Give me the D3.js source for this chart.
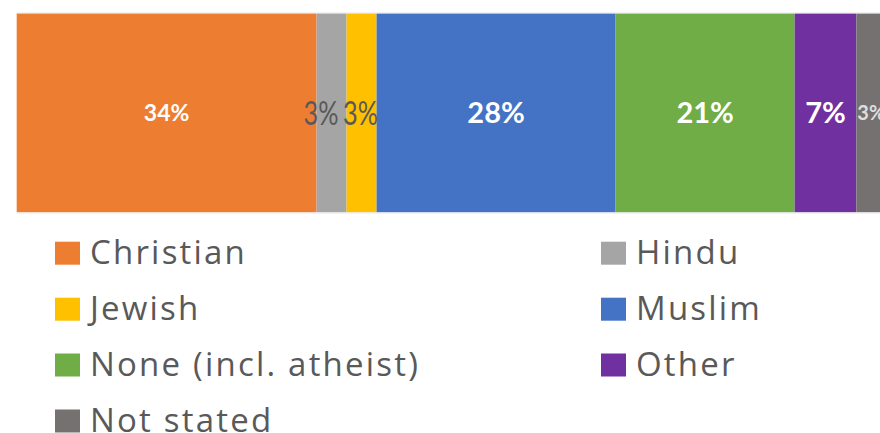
<!DOCTYPE html>
<html><head><meta charset="utf-8">
<script src="https://cdn.jsdelivr.net/npm/d3@7"></script>
<style>html,body{margin:0;padding:0;background:#fff;overflow:hidden}</style>
</head><body>
<svg id="c" width="880" height="433"></svg>
<script>
const categories = ["Christian","Hindu","Jewish","Muslim","None (incl. atheist)","Other","Not stated"];
const values = [34.0, 3.4, 3.4, 27.1, 20.3, 7.0, 3.0];
const labels = ["34%","3%","3%","28%","21%","7%","3%"];
const colors = ["#ED7D31","#A5A5A5","#FFC000","#4472C4","#70AD47","#7030A0","#767171"];

const svg = d3.select("#c");
const font = "Lato, 'Open Sans', sans-serif";

let acc = 0;
const stack = values.map((v,i)=>{const s={cat:categories[i],v,x0:acc,x1:acc+v,i}; acc+=v; return s;});

const x = d3.scaleLinear().domain([0,100]).range([16.7, 16.7+882]);
const y = d3.scaleBand().domain(["all"]).range([13.3, 212.3]).padding(0);

svg.append("g").selectAll("rect").data(stack).join("rect")
  .attr("x", d=>x(d.x0)).attr("y", y("all"))
  .attr("width", d=>x(d.x1)-x(d.x0)).attr("height", y.bandwidth())
  .attr("fill", d=>colors[d.i]);

svg.append("line").attr("x1",x(0)).attr("x2",880).attr("y1",13).attr("y2",13).attr("stroke","#e6e6e6").attr("stroke-width",1);
svg.append("line").attr("x1",x(0)).attr("x2",880).attr("y1",213).attr("y2",213).attr("stroke","#e6e6e6").attr("stroke-width",1);

const labStyle = [
  {size:23, weight:700, fill:"#ffffff", nudge:0, len:null},
  {size:33, weight:400, fill:"#595959", nudge:-10.6, len:35},
  {size:33, weight:400, fill:"#595959", nudge:-1.0, len:35},
  {size:29, weight:700, fill:"#ffffff", nudge:0, len:null},
  {size:29, weight:700, fill:"#ffffff", nudge:0, len:null},
  {size:29, weight:700, fill:"#ffffff", nudge:0, len:null},
  {size:20, weight:700, fill:"#dddddd", nudge:0, len:null}
];
const cy = y("all") + y.bandwidth()/2;
const lab = svg.append("g").selectAll("text").data(stack).join("text")
  .attr("text-anchor", d=> d.i===6 ? "start" : "middle")
  .attr("font-family", font)
  .attr("font-size", d=>labStyle[d.i].size)
  .attr("font-weight", d=>labStyle[d.i].weight)
  .attr("fill", d=>labStyle[d.i].fill)
  .text(d=>labels[d.i]);
lab.attr("transform", function(d){
  const tx = d.i===6 ? x(d.x0)+1 : (x(d.x0)+x(d.x1))/2 + labStyle[d.i].nudge;
  const ty = cy + labStyle[d.i].size*0.36;
  let sx = 1;
  if (labStyle[d.i].len) sx = labStyle[d.i].len / this.getComputedTextLength();
  return `translate(${tx},${ty}) scale(${sx},1)`;
});

// legend
const lg = svg.append("g");
const colX = [55, 601];
const rowY = [241.7, 297.7, 353.5, 409.5];
categories.forEach((c,k)=>{
  const col = k%2, row = Math.floor(k/2);
  const g = lg.append("g").attr("transform",`translate(${colX[col]},${rowY[row]})`);
  g.append("rect").attr("width",25).attr("height",23).attr("fill",colors[k]);
  g.append("text").attr("x",35).attr("y",22)
    .attr("font-family","'Open Sans', Lato, sans-serif").attr("font-size",33)
    .attr("letter-spacing",2.2).attr("fill","#595959")
    .text(c);
});
</script>
</body></html>
